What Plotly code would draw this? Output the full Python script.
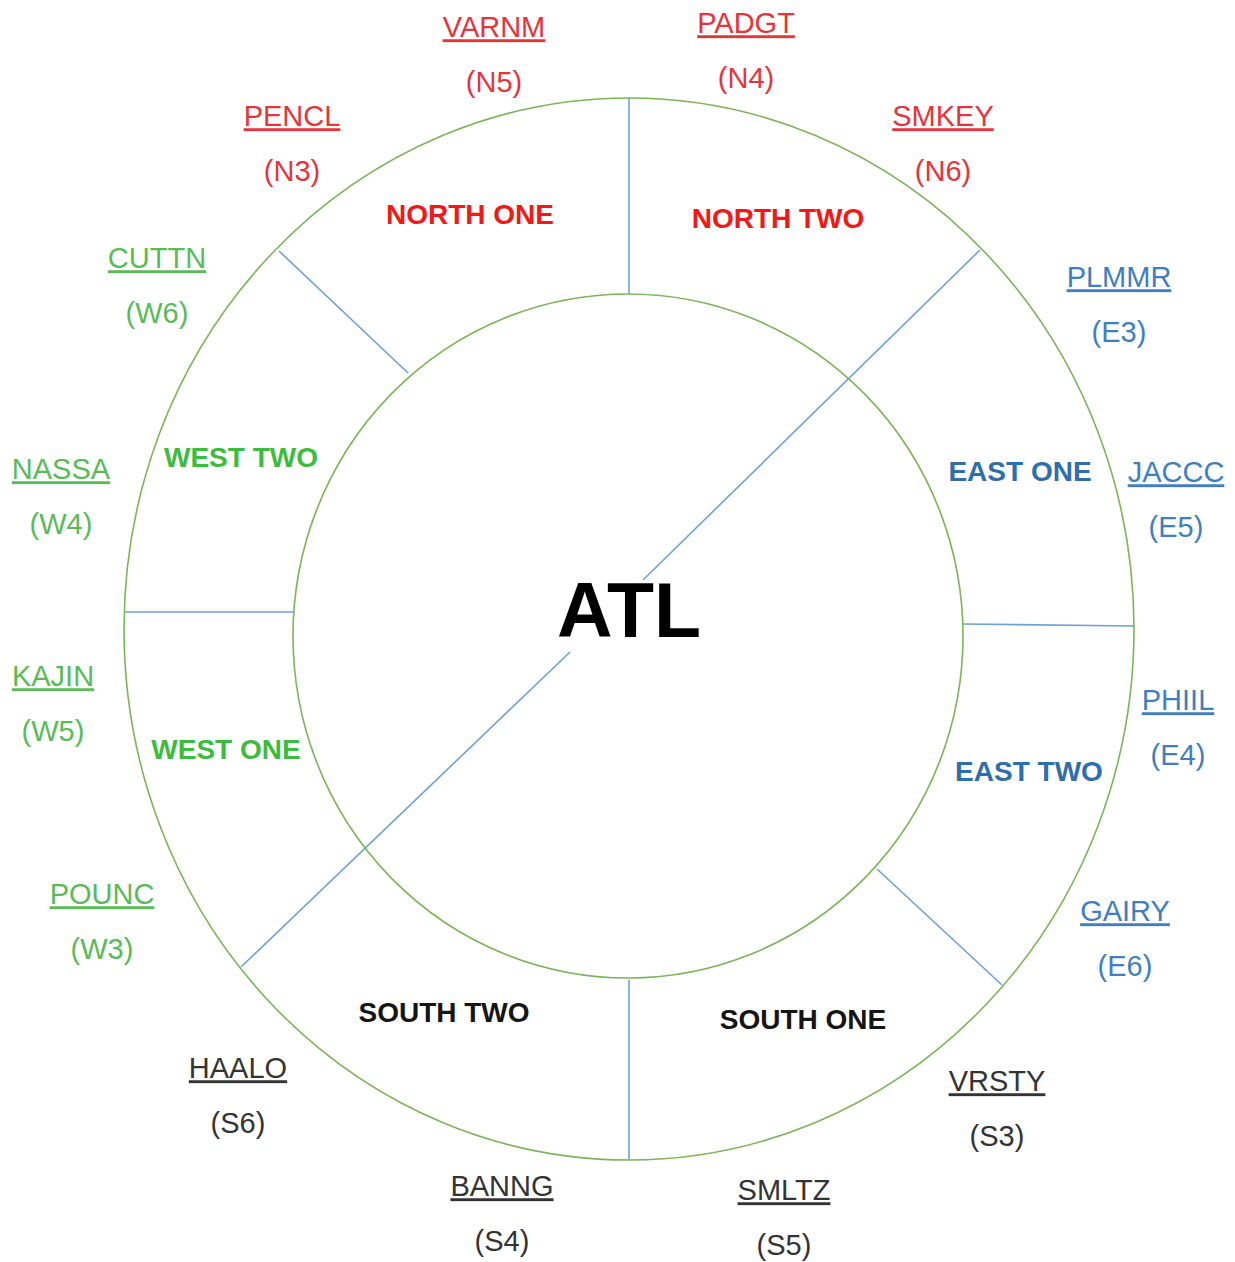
import plotly.graph_objects as go

W, H = 1235, 1262

# ---- data ----
fix_names = ["VARNM", "PADGT", "PENCL", "SMKEY", "CUTTN", "PLMMR", "NASSA", "JACCC",
             "KAJIN", "PHIIL", "POUNC", "GAIRY", "HAALO", "VRSTY", "BANNG", "SMLTZ"]
fix_codes = ["N5", "N4", "N3", "N6", "W6", "E3", "W4", "E5",
             "W5", "E4", "W3", "E6", "S6", "S3", "S4", "S5"]
fix_region = ["N", "N", "N", "N", "W", "E", "W", "E",
              "W", "E", "W", "E", "S", "S", "S", "S"]
fix_x = [494, 746, 292, 943, 157, 1119, 61, 1176, 53, 1178, 102, 1125, 238, 997, 502, 784]
fix_y = [27, 23, 116, 116, 258, 277, 469, 472, 676, 700, 894, 911, 1068, 1081, 1186, 1190]
code_dy = 55

sector_names = ["NORTH ONE", "NORTH TWO", "WEST TWO", "EAST ONE",
                "WEST ONE", "EAST TWO", "SOUTH TWO", "SOUTH ONE"]
sector_region = ["N", "N", "W", "E", "W", "E", "S", "S"]
sector_x = [470, 778, 241, 1020, 226, 1029, 444, 803]
sector_y = [214, 218, 457, 471, 749, 771, 1012, 1019]

center_label = "ATL"
center_xy = (629, 611)

# ring geometry (pixels)
outer_ring = dict(x0=124, x1=1134, y0=98, y1=1160)
inner_ring = dict(x0=293, x1=963, y0=294, y1=978)

# divider segments (x0, y0, x1, y1)
dividers = [
    (629, 98, 629, 294),
    (279, 251, 408, 373),
    (980, 250, 643, 580),
    (570, 652, 241, 967),
    (124, 612, 293, 612),
    (963, 624, 1134, 626),
    (877, 869, 1002, 985),
    (629, 980, 629, 1160),
]

fix_colors = {"N": "#e2363c", "W": "#58bb58", "E": "#3f7fc0", "S": "#333333"}
sector_colors = {"N": "#f21818", "W": "#3cbc3c", "E": "#2f6eac", "S": "#151515"}

FONT = "Liberation Sans, Arial, sans-serif"
TXT_SHIFT = 3      # baseline correction for small text
BIG_SHIFT = 7      # baseline correction for the centre label

fig = go.Figure()

# dividers
for (x0, y0, x1, y1) in dividers:
    fig.add_trace(go.Scatter(x=[x0, x1], y=[y0, y1], mode="lines",
                             line=dict(color="#6fa0d6", width=1.6),
                             hoverinfo="skip", showlegend=False))

# rings
for ring in (outer_ring, inner_ring):
    fig.add_shape(type="circle", xref="x", yref="y", **ring,
                  line=dict(color="#7cb45a", width=1.6), layer="above")

# fix labels
for reg in ["N", "W", "E", "S"]:
    idx = [i for i, r in enumerate(fix_region) if r == reg]
    fig.add_trace(go.Scatter(
        x=[fix_x[i] for i in idx], y=[fix_y[i] + TXT_SHIFT for i in idx], mode="text",
        text=["<u>" + fix_names[i] + "</u>" for i in idx],
        textfont=dict(family=FONT, size=29, color=fix_colors[reg]),
        cliponaxis=False, hoverinfo="skip", showlegend=False))
    fig.add_trace(go.Scatter(
        x=[fix_x[i] for i in idx], y=[fix_y[i] + code_dy + TXT_SHIFT for i in idx], mode="text",
        text=["(" + fix_codes[i] + ")" for i in idx],
        textfont=dict(family=FONT, size=29, color=fix_colors[reg]),
        cliponaxis=False, hoverinfo="skip", showlegend=False))

# sector labels
for reg in ["N", "W", "E", "S"]:
    idx = [i for i, r in enumerate(sector_region) if r == reg]
    fig.add_trace(go.Scatter(
        x=[sector_x[i] for i in idx], y=[sector_y[i] + TXT_SHIFT for i in idx], mode="text",
        text=["<b>" + sector_names[i] + "</b>" for i in idx],
        textfont=dict(family=FONT, size=28, color=sector_colors[reg]),
        cliponaxis=False, hoverinfo="skip", showlegend=False))

fig.add_trace(go.Scatter(
    x=[center_xy[0]], y=[center_xy[1] + BIG_SHIFT], mode="text",
    text=["<b>" + center_label + "</b>"],
    textfont=dict(family=FONT, size=77, color="#000000"),
    cliponaxis=False, hoverinfo="skip", showlegend=False))

fig.update_layout(
    width=W, height=H,
    margin=dict(l=0, r=0, t=0, b=0),
    paper_bgcolor="white", plot_bgcolor="white",
    xaxis=dict(range=[0, W], visible=False, fixedrange=True),
    yaxis=dict(range=[H, 0], visible=False, fixedrange=True),
    showlegend=False,
)

fig.write_html("out.html", config={"displayModeBar": False},
               post_script="document.body.style.margin='0';document.body.style.overflow='hidden';")
